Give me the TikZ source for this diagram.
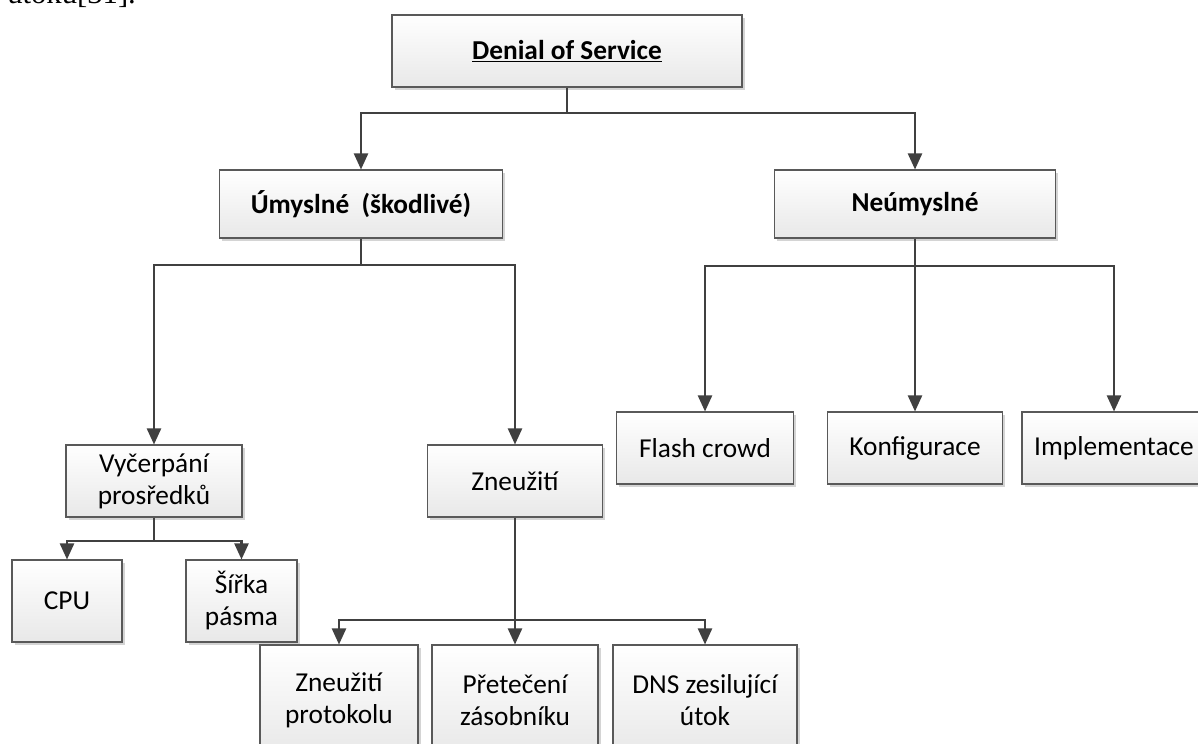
\documentclass[tikz,border=0pt]{standalone}
\usepackage{fontspec}
\setmainfont{Carlito}
\newfontfamily\bodyserif{Liberation Serif}
\usetikzlibrary{arrows.meta,shadows}
\definecolor{linegray}{HTML}{404040}
\definecolor{framegray}{HTML}{595959}
\tikzset{
  box/.style={draw=framegray, line width=0.8pt,
    top color=white, bottom color=black!9,
    drop shadow={shadow xshift=2.2pt, shadow yshift=-2.2pt, fill=black!30, opacity=0.55},
    inner sep=0pt, align=center, text=black,
    font=\fontsize{20.5}{24}\selectfont},
  bsz/.style 2 args={minimum width=#1*0.75pt, minimum height=#2*0.75pt},
  conn/.style={draw=linegray, line width=1.7pt, line join=miter,
    -{Triangle[length=12pt,width=10.5pt]}},
}
\begin{document}
\begin{tikzpicture}[x=0.75pt,y=-0.75pt]
  \clip (0,0) rectangle (1198,743);
  \fill[white] (0,0) rectangle (1198,743);

  % tail of the preceding paragraph, cut by the top edge
  \node[anchor=base west, inner sep=0pt, font=\bodyserif\fontsize{23}{26}\selectfont] (prev) at (7,3) {útoku[31].};

  % boxes
  \node[box, bsz={350}{72}] (dos)   at (567,51)    {\textbf{\underline{Denial of Service}}};
  \node[box, bsz={283}{68}] (um)    at (361,204)   {\textbf{Úmyslné\ \ (škodlivé)}};
  \node[box, bsz={281}{68}] (neum)  at (915,204)   {\textbf{Neúmyslné}};
  \node[box, bsz={176}{72}] (vyc)   at (154,481)   {Vyčerpání\\prosředků};
  \node[box, bsz={175}{72}] (zne)   at (515,481)   {Zneužití};
  \node[box, bsz={177}{72}] (flash) at (705,448)   {Flash crowd};
  \node[box, bsz={175}{72}] (konf)  at (915,448)   {Konfigurace};
  \node[box, bsz={184}{72}] (impl)  at (1114,448)  {Implementace};
  \node[box, bsz={110}{82}] (cpu)   at (67,601)    {CPU};
  \node[box, bsz={111}{82}] (sirka) at (241.5,601) {Šířka\\pásma};
  \node[box, bsz={158}{110}] (zprot) at (339,700)  {Zneužití\\protokolu};
  \node[box, bsz={166}{110}] (pret)  at (515,700)  {Přetečení\\zásobníku};
  \node[box, bsz={184}{110}] (dns)   at (705,700)  {DNS zesilující\\útok};

  % junctions
  \coordinate (j1) at (567,113);
  \coordinate (j2) at (361,265);
  \coordinate (j3) at (915,266);
  \coordinate (j4) at (154,541);
  \coordinate (j5) at (515,620);

  % connectors
  \draw[conn] (dos.south) -- (j1) -| (um.north);
  \draw[conn] (j1) -| (neum.north);

  \draw[conn] (um.south) -- (j2) -| (vyc.north);
  \draw[conn] (j2) -| (zne.north);

  \draw[conn] (neum.south) -- (j3) -| (flash.north);
  \draw[conn] (j3) -- (konf.north);
  \draw[conn] (j3) -| (impl.north);

  \draw[conn] (vyc.south) -- (j4) -| (cpu.north);
  \draw[conn] (j4) -| (sirka.north);

  \draw[conn] (zne.south) -- (j5) -| (zprot.north);
  \draw[conn] (j5) -- (pret.north);
  \draw[conn] (j5) -| (dns.north);
\end{tikzpicture}
\end{document}
